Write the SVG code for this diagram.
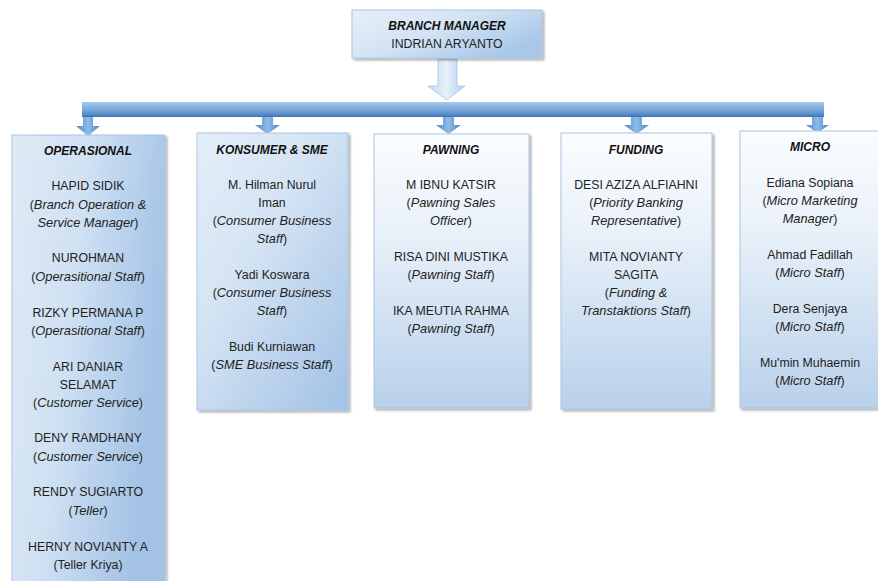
<svg xmlns="http://www.w3.org/2000/svg" width="878" height="581" viewBox="0 0 878 581">
<defs>
  <linearGradient id="gMgr" x1="0" y1="0" x2="1" y2="0.6">
    <stop offset="0" stop-color="#e6eff9"/>
    <stop offset="0.5" stop-color="#d3e3f4"/>
    <stop offset="1" stop-color="#a9c7e8"/>
  </linearGradient>
  <linearGradient id="gDiag" x1="0" y1="0" x2="1" y2="0.35">
    <stop offset="0" stop-color="#dfeaf6"/>
    <stop offset="0.45" stop-color="#d0e1f3"/>
    <stop offset="1" stop-color="#a3c2e5"/>
  </linearGradient>
  <linearGradient id="gDiag2" x1="0" y1="0" x2="0.9" y2="1">
    <stop offset="0" stop-color="#e4eef8"/>
    <stop offset="0.4" stop-color="#d5e4f4"/>
    <stop offset="1" stop-color="#a6c4e6"/>
  </linearGradient>
  <linearGradient id="gVert" x1="0" y1="0" x2="0" y2="1">
    <stop offset="0" stop-color="#fbfdff"/>
    <stop offset="0.35" stop-color="#e9f1f9"/>
    <stop offset="1" stop-color="#b9d1eb"/>
  </linearGradient>
  <linearGradient id="gBar" x1="0" y1="0" x2="0" y2="1">
    <stop offset="0" stop-color="#a7c9ea"/>
    <stop offset="0.45" stop-color="#7eaddf"/>
    <stop offset="0.8" stop-color="#5a8fcc"/>
    <stop offset="1" stop-color="#3f70ad"/>
  </linearGradient>
  <linearGradient id="gArrow" x1="0" y1="0" x2="1" y2="0">
    <stop offset="0" stop-color="#4f86c6"/>
    <stop offset="0.5" stop-color="#8dbbe8"/>
    <stop offset="1" stop-color="#4f86c6"/>
  </linearGradient>
  <linearGradient id="gBigArrow" x1="0" y1="0" x2="1" y2="0">
    <stop offset="0" stop-color="#c3d8ef"/>
    <stop offset="0.5" stop-color="#e6f0fa"/>
    <stop offset="1" stop-color="#b6cfeb"/>
  </linearGradient>
  <filter id="shadow" x="-10%" y="-10%" width="130%" height="130%">
    <feDropShadow dx="2" dy="2" stdDeviation="1.2" flood-color="#000" flood-opacity="0.3"/>
  </filter>
</defs>
<style>
  text { font-family: "Liberation Sans", Arial, sans-serif; font-size: 12.3px; fill: #222; text-anchor: middle; }
  .t { font-size: 12px; font-weight: bold; font-style: italic; fill: #111; }
  .i { font-style: italic; font-size: 12.8px; }
  .box { stroke: #a9c4e3; stroke-width: 1; filter: url(#shadow); }
</style>

<g id="connectors">
  <polygon points="438,59 457,59 457,86 465,86 447,100 428,86 438,86" fill="url(#gBigArrow)" stroke="#a6c2e2" stroke-width="0.8"/>
  <rect x="82" y="102" width="742" height="15" fill="url(#gBar)"/>
  <g fill="url(#gArrow)">
    <polygon points="83,117 93,117 93,126 100,126 88,136 76,126 83,126"/>
    <polygon points="262,117 273,117 273,125 280,125 267.5,134 255,125 262,125"/>
    <polygon points="443,117 454,117 454,125 461,125 448.5,134 436,125 443,125"/>
    <polygon points="631,117 642,117 642,125 649,125 636.5,134 624,125 631,125"/>
    <polygon points="812,117 823,117 823,125 829,125 817.5,133 806,125 812,125"/>
  </g>
</g>

<g id="branch-manager">
  <rect class="box" x="352" y="10" width="190" height="48" fill="url(#gMgr)"/>
  <text class="t" x="447" y="30">BRANCH MANAGER</text>
  <text x="447" y="48">INDRIAN ARYANTO</text>
</g>

<g id="operasional">
  <rect class="box" x="12" y="135" width="153" height="460" fill="url(#gDiag)"/>
  <text class="t" x="88" y="155">OPERASIONAL</text>
  <text x="88" y="190">HAPID SIDIK</text>
  <text x="88" y="209">(<tspan class="i">Branch Operation &amp;</tspan></text>
  <text x="88" y="227"><tspan class="i">Service Manager</tspan>)</text>
  <text x="88" y="262">NUROHMAN</text>
  <text x="88" y="281">(<tspan class="i">Operasitional Staff</tspan>)</text>
  <text x="88" y="317">RIZKY PERMANA P</text>
  <text x="88" y="335">(<tspan class="i">Operasitional Staff</tspan>)</text>
  <text x="88" y="371">ARI DANIAR</text>
  <text x="88" y="389">SELAMAT</text>
  <text x="88" y="407">(<tspan class="i">Customer Service</tspan>)</text>
  <text x="88" y="442">DENY RAMDHANY</text>
  <text x="88" y="461">(<tspan class="i">Customer Service</tspan>)</text>
  <text x="88" y="496">RENDY SUGIARTO</text>
  <text x="88" y="515">(<tspan class="i">Teller</tspan>)</text>
  <text x="88" y="551">HERNY NOVIANTY A</text>
  <text x="88" y="569">(Teller Kriya)</text>
</g>

<g id="konsumer-sme">
  <rect class="box" x="197" y="133" width="151" height="277" fill="url(#gDiag2)"/>
  <text class="t" x="272" y="154">KONSUMER &amp; SME</text>
  <text x="272" y="189">M. Hilman Nurul</text>
  <text x="272" y="207">Iman</text>
  <text x="272" y="225">(<tspan class="i">Consumer Business</tspan></text>
  <text x="272" y="243"><tspan class="i">Staff</tspan>)</text>
  <text x="272" y="279">Yadi Koswara</text>
  <text x="272" y="297">(<tspan class="i">Consumer Business</tspan></text>
  <text x="272" y="315"><tspan class="i">Staff</tspan>)</text>
  <text x="272" y="351">Budi Kurniawan</text>
  <text x="272" y="369">(<tspan class="i">SME Business Staff</tspan>)</text>
</g>

<g id="pawning">
  <rect class="box" x="374" y="134" width="155" height="274" fill="url(#gVert)"/>
  <text class="t" x="451" y="154">PAWNING</text>
  <text x="451" y="189">M IBNU KATSIR</text>
  <text x="451" y="207">(<tspan class="i">Pawning Sales</tspan></text>
  <text x="451" y="225"><tspan class="i">Officer</tspan>)</text>
  <text x="451" y="261">RISA DINI MUSTIKA</text>
  <text x="451" y="279">(<tspan class="i">Pawning Staff</tspan>)</text>
  <text x="451" y="315">IKA MEUTIA RAHMA</text>
  <text x="451" y="333">(<tspan class="i">Pawning Staff</tspan>)</text>
</g>

<g id="funding">
  <rect class="box" x="561" y="133" width="151" height="276" fill="url(#gVert)"/>
  <text class="t" x="636" y="154">FUNDING</text>
  <text x="636" y="189">DESI AZIZA ALFIAHNI</text>
  <text x="636" y="207">(<tspan class="i">Priority Banking</tspan></text>
  <text x="636" y="225"><tspan class="i">Representative</tspan>)</text>
  <text x="636" y="261">MITA NOVIANTY</text>
  <text x="636" y="279">SAGITA</text>
  <text x="636" y="297">(<tspan class="i">Funding &amp;</tspan></text>
  <text x="636" y="315"><tspan class="i">Transtaktions Staff</tspan>)</text>
</g>

<g id="micro">
  <rect class="box" x="740" y="131" width="145" height="277" fill="url(#gVert)"/>
  <text class="t" x="810" y="151">MICRO</text>
  <text x="810" y="187">Ediana Sopiana</text>
  <text x="810" y="205">(<tspan class="i">Micro Marketing</tspan></text>
  <text x="810" y="223"><tspan class="i">Manager</tspan>)</text>
  <text x="810" y="259">Ahmad Fadillah</text>
  <text x="810" y="277">(<tspan class="i">Micro Staff</tspan>)</text>
  <text x="810" y="313">Dera Senjaya</text>
  <text x="810" y="331">(<tspan class="i">Micro Staff</tspan>)</text>
  <text x="810" y="367">Mu'min Muhaemin</text>
  <text x="810" y="385">(<tspan class="i">Micro Staff</tspan>)</text>
</g>
</svg>
